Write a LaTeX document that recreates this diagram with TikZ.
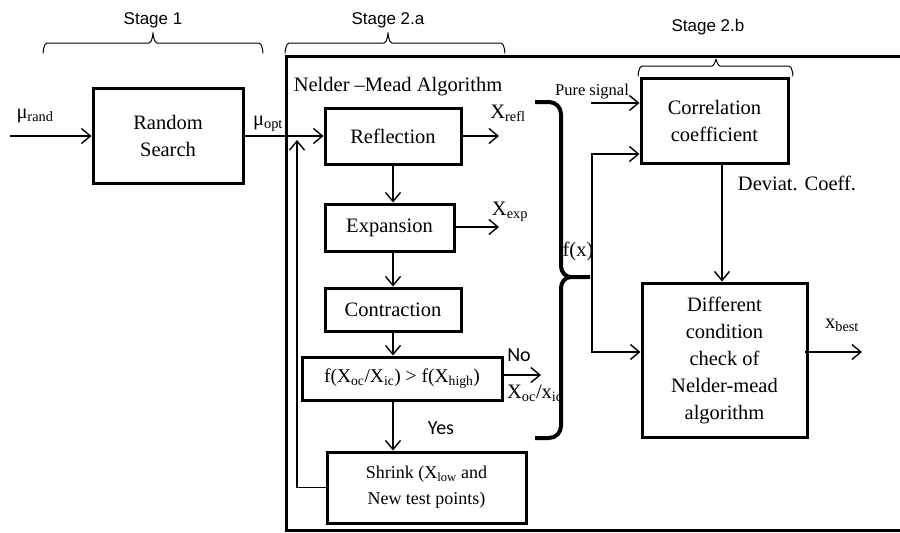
\documentclass[tikz,border=0pt]{standalone}
\usepackage{fontspec}
\setmainfont{Liberation Serif}
\newfontfamily\arialfont{Liberation Sans}
\newfontfamily\califont{Carlito}
\usetikzlibrary{arrows.meta,calc}
\tikzset{
  blk/.style={draw,line width=3pt,inner sep=0pt,align=center,font=\fontsize{20.5}{27}\selectfont},
  arr/.style={line width=1.4pt,-{Straight Barb[length=9pt,width=15pt,line width=1.4pt]}},
  ln/.style={line width=1.4pt},
  lbl/.style={inner sep=0pt,font=\fontsize{20.5}{24}\selectfont},
  stagelbl/.style={inner sep=0pt,font=\arialfont\fontsize{17}{20}\selectfont},
  brc/.style={line width=1pt},
}
\begin{document}
\begin{tikzpicture}[x=1pt,y=-1pt]
\useasboundingbox (0,0) rectangle (900,533);
% big frame
\draw[line width=3pt] (900,56) -- (286,56) -- (286,530) -- (900,530);
% stage labels
\node[stagelbl] (s1) at (153,20) {Stage 1};
\node[stagelbl] (s2a) at (388,20) {Stage 2.a};
\node[stagelbl] (s2b) at (708,27) {Stage 2.b};
% stage braces
\draw[brc] (43,52) to[out=-90,in=180] (47,43) -- (149,43) to[out=0,in=90] (153,34) to[out=90,in=180] (157,43) -- (259,43) to[out=0,in=-90] (263,52);
\draw[brc] (285,52) to[out=-90,in=180] (289,43) -- (384,43) to[out=0,in=90] (388,34) to[out=90,in=180] (392,43) -- (501,43) to[out=0,in=-90] (505,52);
\draw[brc] (638,75) to[out=-90,in=180] (642,66) -- (712,66) to[out=0,in=90] (716,60) to[out=90,in=180] (720,66) -- (789,66) to[out=0,in=-90] (793,75);
% blocks
\node[blk,minimum width=150pt,minimum height=95pt] (rs) at (168,136) {Random\\Search};
\node[lbl] (nm) at (398,87) {Nelder –Mead Algorithm};
\node[blk,minimum width=136pt,minimum height=56pt] (refl) at (393,136) {Reflection};
\node[blk,minimum width=129pt,minimum height=47pt] (exp) at (389.5,227.5) {Expansion};
\node[blk,minimum width=136pt,minimum height=43pt] (contr) at (393,309.5) {Contraction};
\node[blk,minimum width=200pt,minimum height=43pt,font=\fontsize{19.5}{24}\selectfont] (cond) at (402,378.5) {f(X\textsubscript{oc}/X\textsubscript{ic}) > f(X\textsubscript{high})};
\node[blk,minimum width=199pt,minimum height=71pt,font=\fontsize{18}{26}\selectfont] (shrink) at (426.5,487.5) {Shrink (X\textsubscript{low} and\\New test points)};
\node[blk,minimum width=147pt,minimum height=85pt] (corr) at (714.5,120.5) {Correlation\\coefficient};
\node[blk,minimum width=165pt,minimum height=154pt] (diff) at (724.5,360) {Different\\condition\\check of\\Nelder-mead\\algorithm};
% free ends
\coordinate (in0) at (10,136);
\coordinate (fb) at (297,140);
\coordinate (orefl) at (499,136);
\coordinate (oexp) at (499,227);
\coordinate (ono) at (541,375);
\coordinate (ps) at (591,103);
\coordinate (fx) at (592,277);
\coordinate (obest) at (862,352);
% connectors
\draw[arr] (in0) -- (rs.west);
\draw[arr] (rs.east) -- (refl.west);
\draw[arr] (shrink.west) -| (fb);
\draw[arr] (refl.east) -- (orefl);
\draw[arr] (refl.south) -- (refl.south |- exp.north);
\draw[arr] (exp.east |- oexp) -- (oexp);
\draw[arr] (contr.north |- exp.south) -- (contr.north);
\draw[arr] (contr.south) -- (contr.south |- cond.north);
\draw[arr] (cond.east |- ono) -- (ono);
\draw[arr] (contr.south |- cond.south) -- (contr.south |- shrink.north);
\draw[arr] (ps) -- (corr.west |- ps);
\draw[arr] (fx) |- ([yshift=-33.5pt]corr.west);
\draw[arr] (fx) |- ([yshift=8pt]diff.west);
\draw[arr] ([xshift=7.5pt]corr.south) -- ([xshift=7.5pt]corr.south |- diff.north);
\draw[arr] ([xshift=-4pt]diff.east |- obest) -- (obest);
% big bracket
\draw[line width=4pt] (535,102) -- (549,102) to[out=0,in=90] (561,114) -- (561,266) to[out=-90,in=180] (571,277) -- (590,277);
\draw[line width=4pt] (571,277) to[out=180,in=90] (561,288) -- (561,426) to[out=-90,in=0] (549,438) -- (535,438);
% labels
\node[lbl] (lrand) at (35,116) {μ\textsubscript{rand}};
\node[lbl] (lopt) at (268,124) {μ\textsubscript{opt}};
\node[lbl] (lrefl) at (508,113) {X\textsubscript{refl}};
\node[lbl] (lexp) at (510,212) {X\textsubscript{exp}};
\node[inner sep=0pt,font=\califont\fontsize{20}{24}\selectfont] (lno) at (519,355) {No};
\node[lbl] (loc) at (535,393) {X\textsubscript{oc}/x\textsubscript{ic}};
\node[inner sep=0pt,font=\califont\fontsize{20}{24}\selectfont] (lyes) at (441,428) {Yes};
\node[inner sep=0pt,font=\fontsize{16.5}{20}\selectfont] (lps) at (592,92) {Pure signal};
\node[lbl] (lfx) at (578,251) {f(x)};
\node[lbl] (ldev) at (797,183) {Deviat. Coeff.};
\node[lbl] (lbest) at (842,325) {x\textsubscript{best}};
\end{tikzpicture}
\end{document}
